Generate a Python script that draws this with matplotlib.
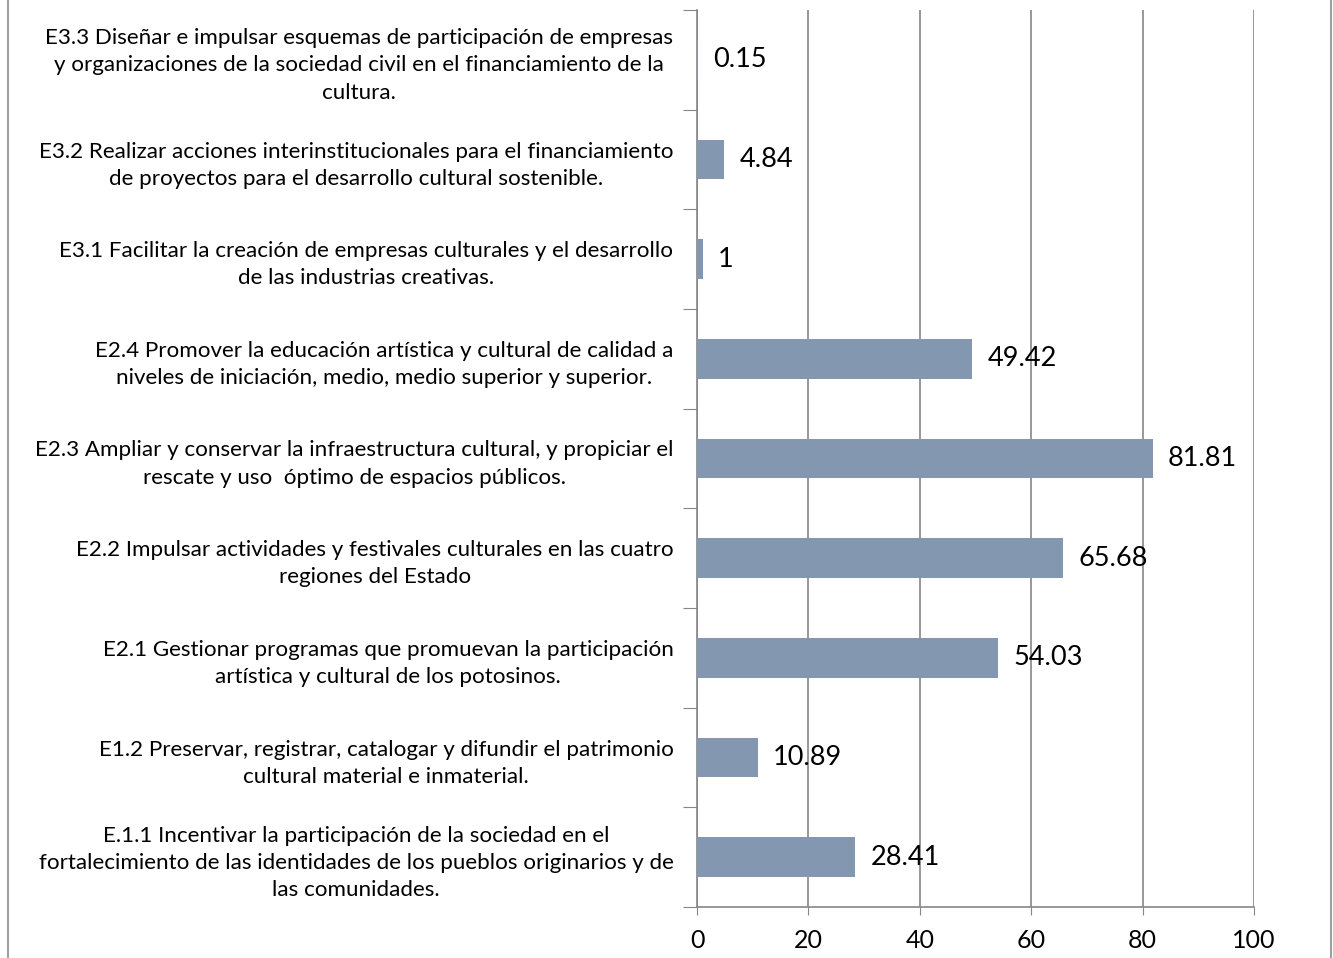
import matplotlib.pyplot as plt
from matplotlib.lines import Line2D

# categories from bottom to top
labels = [
    "E.1.1 Incentivar la participación de la sociedad en el\nfortalecimiento de las identidades de los pueblos originarios y de\nlas comunidades.",
    "E1.2 Preservar, registrar, catalogar y difundir el patrimonio\ncultural material e inmaterial.",
    "E2.1 Gestionar programas que promuevan la participación\nartística y cultural de los potosinos.",
    "E2.2 Impulsar actividades y festivales culturales en las cuatro\nregiones del Estado",
    "E2.3 Ampliar y conservar la infraestructura cultural, y propiciar el\nrescate y uso  óptimo de espacios públicos.",
    "E2.4 Promover la educación artística y cultural de calidad a\nniveles de iniciación, medio, medio superior y superior.",
    "E3.1 Facilitar la creación de empresas culturales y el desarrollo\nde las industrias creativas.",
    "E3.2 Realizar acciones interinstitucionales para el financiamiento\nde proyectos para el desarrollo cultural sostenible.",
    "E3.3 Diseñar e impulsar esquemas de participación de empresas\ny organizaciones de la sociedad civil en el financiamiento de la\ncultura.",
]
values = [28.41, 10.89, 54.03, 65.68, 81.81, 49.42, 1, 4.84, 0.15]
value_text = ["28.41", "10.89", "54.03", "65.68", "81.81", "49.42", "1", "4.84", "0.15"]
xticks = [0, 20, 40, 60, 80, 100]

plt.rcParams['font.family'] = ['Lato', 'DejaVu Sans']

fig = plt.figure(figsize=(13.33, 9.58), dpi=100)
ax = fig.add_axes([697/1333, 1 - 907/958, (1254 - 697)/1333, (907 - 10)/958])

pos = list(range(len(values)))
ax.barh(pos, values, height=0.4, color='#8497B0', zorder=3)

for y, v, t in zip(pos, values, value_text):
    ax.annotate(t, (v, y), xytext=(11, 0), textcoords='offset points',
                ha='left', va='center', fontsize=19.5, zorder=4)

ax.set_xlim(0, 100)
ax.set_ylim(-0.5, len(values) - 0.5)
ax.set_xticks(xticks)
ax.set_xticklabels([str(x) for x in xticks], fontsize=18)
ax.tick_params(axis='x', length=6, color='#868686', pad=10)
ax.xaxis.grid(True, color='#868686', linewidth=1.2)

# y ticks at category boundaries, labels at centres
ax.set_yticks([i - 0.5 for i in range(len(values) + 1)])
ax.set_yticklabels([])
ax.tick_params(axis='y', which='major', length=10, color='#868686')
ax.set_yticks(pos, minor=True)
ax.set_yticklabels(labels, minor=True, fontsize=16.1, multialignment='center',
                   linespacing=1.45)
ax.tick_params(axis='y', which='minor', length=0, pad=17)

for s in ['top', 'right']:
    ax.spines[s].set_visible(False)
for s in ['left', 'bottom']:
    ax.spines[s].set_color('#868686')
    ax.spines[s].set_linewidth(1.2)

# outer chart frame (only the sides are visible)
fig.add_artist(Line2D([8/1333, 8/1333], [0, 1], color='#A0A0A0', linewidth=1.5))
fig.add_artist(Line2D([1331/1333, 1331/1333], [0, 1], color='#A0A0A0', linewidth=1.5))

fig.savefig('out.png', dpi=100)
